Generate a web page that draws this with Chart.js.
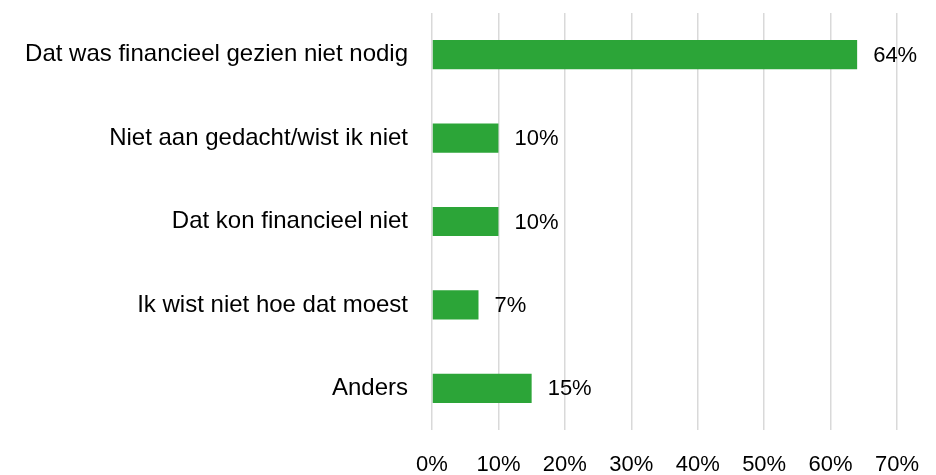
<!DOCTYPE html>
<html>
<head>
<meta charset="utf-8">
<script src="https://cdn.jsdelivr.net/npm/chart.js@4/dist/chart.umd.min.js"></script>
<style>
  html, body { margin: 0; padding: 0; background: #fff; }
  #wrap { width: 936px; height: 475px; }
</style>
</head>
<body>
<div id="wrap"><canvas id="grafiek"></canvas></div>
<script>
// Gegevens uit de grafiek
const categorieen = [
    'Dat was financieel gezien niet nodig',
    'Niet aan gedacht/wist ik niet',
    'Dat kon financieel niet',
    'Ik wist niet hoe dat moest',
    'Anders'
];
const percentages = [64, 10, 10, 7, 15];
const asTicks = [0, 10, 20, 30, 40, 50, 60, 70];

const lettertype = "'Liberation Sans', Arial, sans-serif";

// Eigen plugin voor de labels rechts van de balken
const waardeLabels = {
    id: 'waardeLabels',
    afterDatasetsDraw(chart) {
        const ctx = chart.ctx;
        const meta = chart.getDatasetMeta(0);
        ctx.save();
        ctx.font = '22px ' + lettertype;
        ctx.fillStyle = '#000';
        ctx.textAlign = 'left';
        ctx.textBaseline = 'middle';
        meta.data.forEach((bar, i) => {
            ctx.fillText(percentages[i] + '%', bar.x + 16, bar.y + 1);
        });
        ctx.restore();
    }
};

const ctx = document.getElementById('grafiek').getContext('2d');
new Chart(ctx, {
    type: 'bar',
    data: {
        labels: categorieen,
        datasets: [{
            data: percentages,
            backgroundColor: '#2ca538',
            borderWidth: 0,
            categoryPercentage: 1,
            barPercentage: 0.35
        }]
    },
    options: {
        indexAxis: 'y',
        responsive: true,
        maintainAspectRatio: false,
        animation: false,
        layout: { padding: { top: 13, right: 39, left: 0, bottom: 0 } },
        plugins: {
            legend: { display: false },
            tooltip: { enabled: false }
        },
        scales: {
            x: {
                min: 0,
                max: 70,
                afterBuildTicks(scale) {
                    scale.ticks = asTicks.map(v => ({ value: v }));
                },
                afterFit(scale) {
                    scale.height = 45;
                    scale.paddingLeft = 0;
                    scale.paddingRight = 0;
                },
                grid: { color: '#d9d9d9', lineWidth: 1.5, drawTicks: false },
                border: { display: false },
                ticks: {
                    padding: 22,
                    color: '#000',
                    font: { family: lettertype, size: 22 },
                    callback: v => v + '%'
                }
            },
            y: {
                afterFit(scale) {
                    scale.width = 432;
                    scale.paddingTop = 0;
                    scale.paddingBottom = 0;
                },
                grid: { display: false, drawTicks: false },
                border: { display: false },
                ticks: {
                    padding: 24,
                    color: '#000',
                    font: { family: lettertype, size: 24 }
                }
            }
        }
    },
    plugins: [waardeLabels]
});
</script>
</body>
</html>
